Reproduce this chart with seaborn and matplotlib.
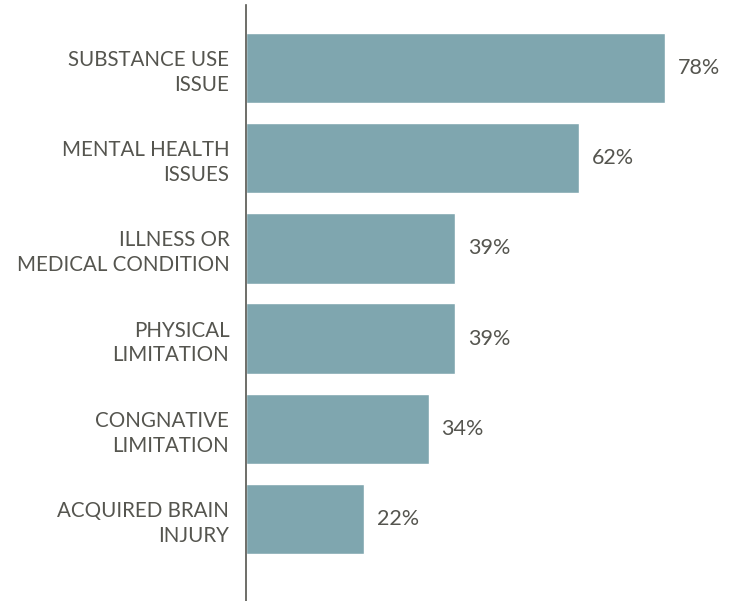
import pandas as pd
import matplotlib.pyplot as plt
import seaborn as sns

categories = ["SUBSTANCE USE\nISSUE", "MENTAL HEALTH\nISSUES", "ILLNESS OR\nMEDICAL CONDITION",
              "PHYSICAL\nLIMITATION", "CONGNATIVE\nLIMITATION", "ACQUIRED BRAIN\nINJURY"]
percent = [78, 62, 39, 39, 34, 22]

df = pd.DataFrame({"category": categories, "percent": percent})

sns.set_style("white")
plt.rcParams['font.family'] = ['Lato', 'DejaVu Sans']
text_color = "#55554f"

fig = plt.figure(figsize=(7.38, 6.01), dpi=100)
ax = fig.add_axes([246 / 738, 0, 1 - 246 / 738, 1 - 5 / 601])
sns.barplot(data=df, y="category", x="percent", orient="h", color="#7fa6af",
            saturation=1, width=0.78, ax=ax)

for i, v in enumerate(percent):
    ax.text(v + 2.4, i, f"{v}%", va="center", ha="left", fontsize=15.5, color=text_color)

ax.set_xlim(0, 91.6)
ax.set_ylim(5.909, -0.698)
ax.set_xlabel("")
ax.set_ylabel("")
ax.set_xticks([])
ax.tick_params(axis="y", length=0, pad=12)
for lbl in ax.get_yticklabels():
    lbl.set_fontsize(14.8)
    lbl.set_color(text_color)
    lbl.set_linespacing(1.3)
for s in ["top", "right", "bottom"]:
    ax.spines[s].set_visible(False)
ax.spines["left"].set_color("#55554f")
ax.spines["left"].set_linewidth(1.2)

fig.savefig("out.png", dpi=100)
